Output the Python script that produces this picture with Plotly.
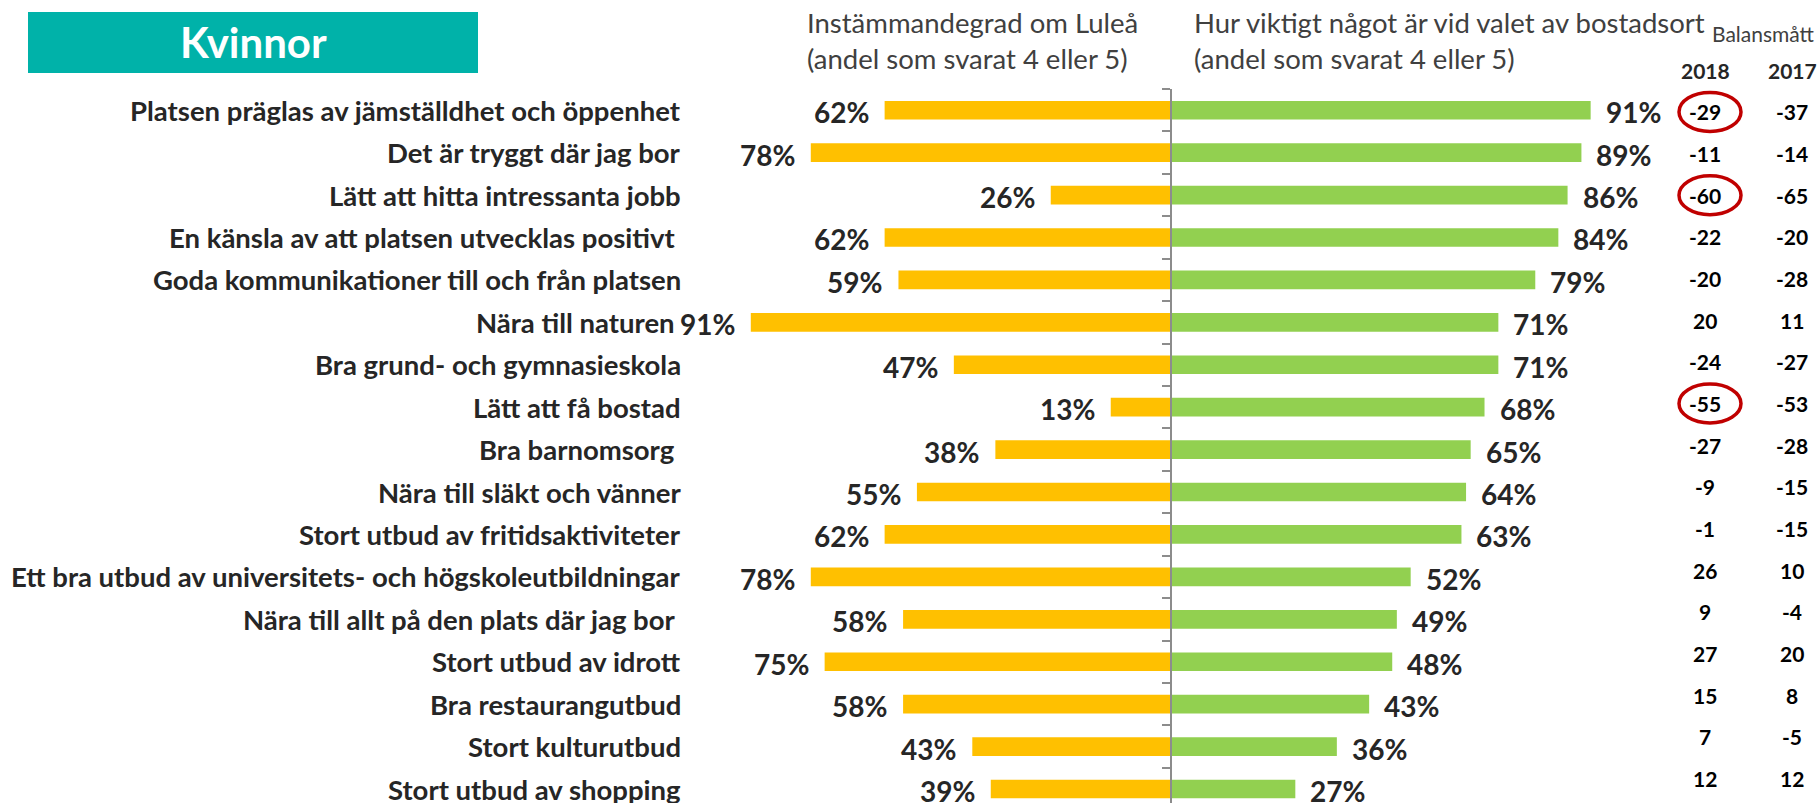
import plotly.graph_objects as go

categories = [
    "Platsen präglas av jämställdhet och öppenhet",
    "Det är tryggt där jag bor",
    "Lätt att hitta intressanta jobb",
    "En känsla av att platsen utvecklas positivt ",
    "Goda kommunikationer till och från platsen",
    "Nära till naturen ",
    "Bra grund- och gymnasieskola",
    "Lätt att få bostad",
    "Bra barnomsorg ",
    "Nära till släkt och vänner",
    "Stort utbud av fritidsaktiviteter",
    "Ett bra utbud av universitets- och högskoleutbildningar",
    "Nära till allt på den plats där jag bor ",
    "Stort utbud av idrott",
    "Bra restaurangutbud",
    "Stort kulturutbud",
    "Stort utbud av shopping",
]
agree_lulea = [62, 78, 26, 62, 59, 91, 47, 13, 38, 55, 62, 78, 58, 75, 58, 43, 39]
importance = [91, 89, 86, 84, 79, 71, 71, 68, 65, 64, 63, 52, 49, 48, 43, 36, 27]
balance_2018 = [-29, -11, -60, -22, -20, 20, -24, -55, -27, -9, -1, 26, 9, 27, 15, 7, 12]
balance_2017 = [-37, -14, -65, -20, -28, 11, -27, -53, -28, -15, -15, 10, -4, 20, 8, -5, 12]
highlighted = [0, 2, 7]  # rows circled in red

title_text = "Kvinnor"
header_left = "Instämmandegrad om Luleå<br>(andel som svarat 4 eller 5)"
header_right = "Hur viktigt något är vid valet av bostadsort<br>(andel som svarat 4 eller 5)"
bal_title = "Balansmått"
bal_years = ["2018", "2017"]

FONT = "Lato"
DARK = "#262626"
YELLOW = "#FFC000"
GREEN = "#92D050"
TEAL = "#00B2A9"
RED = "#C00000"
AXIS = "#8C8C8C"

W, H = 1820, 803
TOP = 89
rows = list(range(len(categories)))

fig = go.Figure()
fig.add_trace(go.Bar(
    y=rows, x=[-v for v in agree_lulea], orientation="h",
    marker=dict(color=YELLOW, line=dict(width=0)), width=0.44,
    hoverinfo="skip", showlegend=False,
))
fig.add_trace(go.Bar(
    y=rows, x=importance, orientation="h",
    marker=dict(color=GREEN, line=dict(width=0)), width=0.44,
    hoverinfo="skip", showlegend=False,
))

ann = []
# category labels
for i, c in enumerate(categories):
    txt = c.rstrip() + ("\u00a0" if c.endswith(" ") else "")
    ann.append(dict(x=683 / W, xref="paper", y=i, yref="y", text=txt,
                    xanchor="right", yanchor="middle", showarrow=False,
                    font=dict(family=FONT, size=27.5, color=DARK, weight="bold")))
# percent labels
for i, v in enumerate(agree_lulea):
    ann.append(dict(x=-v, xref="x", y=i, yref="y", text=f"{v}%",
                    xanchor="right", yanchor="middle", xshift=-14, yshift=-2,
                    showarrow=False,
                    font=dict(family=FONT, size=28, color=DARK, weight="bold")))
for i, v in enumerate(importance):
    ann.append(dict(x=v, xref="x", y=i, yref="y", text=f"{v}%",
                    xanchor="left", yanchor="middle", xshift=13, yshift=-2,
                    showarrow=False,
                    font=dict(family=FONT, size=28, color=DARK, weight="bold")))

# balance columns
bal_x = [1705 / W, 1792 / W]
bal_step = 0.982
bal_off = 0.04
for i, (a, b) in enumerate(zip(balance_2018, balance_2017)):
    yy = bal_off + i * bal_step
    for xx, val in zip(bal_x, (a, b)):
        ann.append(dict(x=xx, xref="paper", y=yy, yref="y", text=str(val),
                        xanchor="center", yanchor="middle", showarrow=False,
                        font=dict(family=FONT, size=21, color="#000000", weight="bold")))
for xx, yr in zip(bal_x, bal_years):
    ann.append(dict(x=xx, xref="paper", y=(H - 70) / (H - TOP), yref="paper", text=yr,
                    xanchor="center", yanchor="middle", showarrow=False,
                    font=dict(family=FONT, size=21, color=DARK, weight="bold")))
ann.append(dict(x=1763 / W, xref="paper", y=(H - 33) / (H - TOP), yref="paper", text=bal_title,
                xanchor="center", yanchor="middle", showarrow=False,
                font=dict(family=FONT, size=21, color="#404040")))

# headers
for xx, txt in ((805 / W, header_left), (1192 / W, header_right)):
    ann.append(dict(x=xx, xref="paper", y=(H - 4) / (H - TOP), yref="paper", text=txt,
                    xanchor="left", yanchor="top", align="left", showarrow=False,
                    font=dict(family=FONT, size=27.5, color="#404040")))

# title
ann.append(dict(x=253 / W, xref="paper", y=(H - 42) / (H - TOP), yref="paper", text=title_text,
                xanchor="center", yanchor="middle", showarrow=False,
                font=dict(family=FONT, size=42, color="#FFFFFF", weight="bold")))

shapes = [dict(type="rect", xref="paper", yref="paper",
               x0=28 / W, x1=478 / W, y0=(H - 73) / (H - TOP), y1=(H - 12) / (H - TOP),
               fillcolor=TEAL, line=dict(width=0), layer="below")]
for i in highlighted:
    yy = bal_off + i * bal_step
    shapes.append(dict(type="circle", xref="paper", yref="y",
                       x0=1679 / W, x1=1741 / W, y0=yy - 0.46, y1=yy + 0.46,
                       line=dict(color=RED, width=3.5)))

fig.update_layout(
    width=W, height=H,
    margin=dict(l=0, r=0, t=TOP, b=0),
    paper_bgcolor="white", plot_bgcolor="white",
    barmode="overlay",
    xaxis=dict(range=[-253.7, 140.7], visible=False, fixedrange=True),
    yaxis=dict(range=[16.33, -0.5], anchor="free", position=1170.7 / W,
               showline=True, linecolor=AXIS, linewidth=2,
               ticks="outside", tickvals=[r + 0.5 for r in rows[:-1]] + [-0.5],
               ticklen=8, tickwidth=2, tickcolor=AXIS,
               showticklabels=False, showgrid=False, zeroline=False, fixedrange=True),
    annotations=ann,
    shapes=shapes,
    font=dict(family=FONT),
)

fig.write_html(
    "out.html",
    config={"displayModeBar": False},
    post_script="document.body.style.margin='0';document.body.style.overflow='hidden';",
)
